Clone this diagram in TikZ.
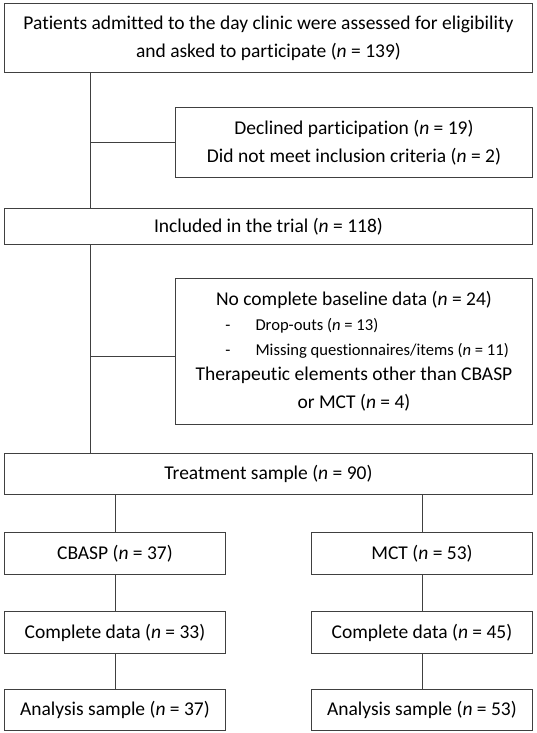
\documentclass[tikz,border=0pt]{standalone}
\usepackage{fontspec}
\setmainfont{Carlito}[Ligatures=NoCommon]
\newcommand{\lossitem}[1]{{\fontsize{16.6}{24}\selectfont\hspace*{29pt}\makebox[286pt][l]{-\hspace{25pt}#1}}}
\begin{document}
\begin{tikzpicture}[x=1pt,y=-1pt]
    % Styles for boxes and connecting lines
    \tikzset{
        c_box/.style={draw=black!75, line width=0.9pt, anchor=north west, inner sep=0pt,
            align=center, font=\fontsize{19.5}{28}\selectfont},
        c_link/.style={draw=black!75, line width=0.9pt}
    }
    \useasboundingbox (0,0) rectangle (536,733);

    % Screening and exclusions
    \node[c_box, minimum width=528pt, minimum height=69pt] (start) at (4,3)
        {Patients admitted to the day clinic were assessed for eligibility\\
         and asked to participate (\textit{n} = 139)};
    \node[c_box, minimum width=357pt, minimum height=70pt] (declined) at (175,107)
        {Declined participation (\textit{n} = 19)\\
         Did not meet inclusion criteria (\textit{n} = 2)};
    \node[c_box, minimum width=528pt, minimum height=36pt] (incl) at (4,208)
        {Included in the trial (\textit{n} = 118)};
    \node[c_box, minimum width=357pt, minimum height=146pt, font=\fontsize{19.5}{25}\selectfont] (nodata) at (175,278)
        {No complete baseline data (\textit{n} = 24)\\
         \lossitem{Drop-outs (\textit{n} = 13)}\\
         \lossitem{Missing questionnaires/items (\textit{n} = 11)}\\
         Therapeutic elements other than CBASP\\[3pt]
         or MCT (\textit{n} = 4)};
    \node[c_box, minimum width=528pt, minimum height=41pt] (treat) at (4,453)
        {Treatment sample (\textit{n} = 90)};

    % The two treatment arms
    \foreach \side/\xx/\arm/\nall/\ncomp in {l/4/CBASP/37/33, r/311/MCT/53/45} {
        \node[c_box, minimum width=221pt, minimum height=42pt] (arm\side) at (\xx,532)
            {\arm\ (\textit{n} = \nall)};
        \node[c_box, minimum width=221pt, minimum height=42pt] (comp\side) at (\xx,611)
            {Complete data (\textit{n} = \ncomp)};
        \node[c_box, minimum width=221pt, minimum height=41pt] (ana\side) at (\xx,689)
            {Analysis sample (\textit{n} = \nall)};
    }

    % Spine on the left with side branches
    \coordinate (spine) at (90,0);
    \draw[c_link] (start.south -| spine) -- (incl.north -| spine);
    \draw[c_link] (declined.west -| spine) -- (declined.west);
    \draw[c_link] (incl.south -| spine) -- (treat.north -| spine);
    \draw[c_link] ([yshift=-5pt]nodata.west -| spine) -- ([yshift=-5pt]nodata.west);

    % Vertical links within each arm
    \foreach \side in {l,r} {
        \draw[c_link] (treat.south -| arm\side.north) -- (arm\side.north);
        \draw[c_link] (arm\side.south) -- (comp\side.north);
        \draw[c_link] (comp\side.south) -- (ana\side.north);
    }
\end{tikzpicture}
\end{document}
